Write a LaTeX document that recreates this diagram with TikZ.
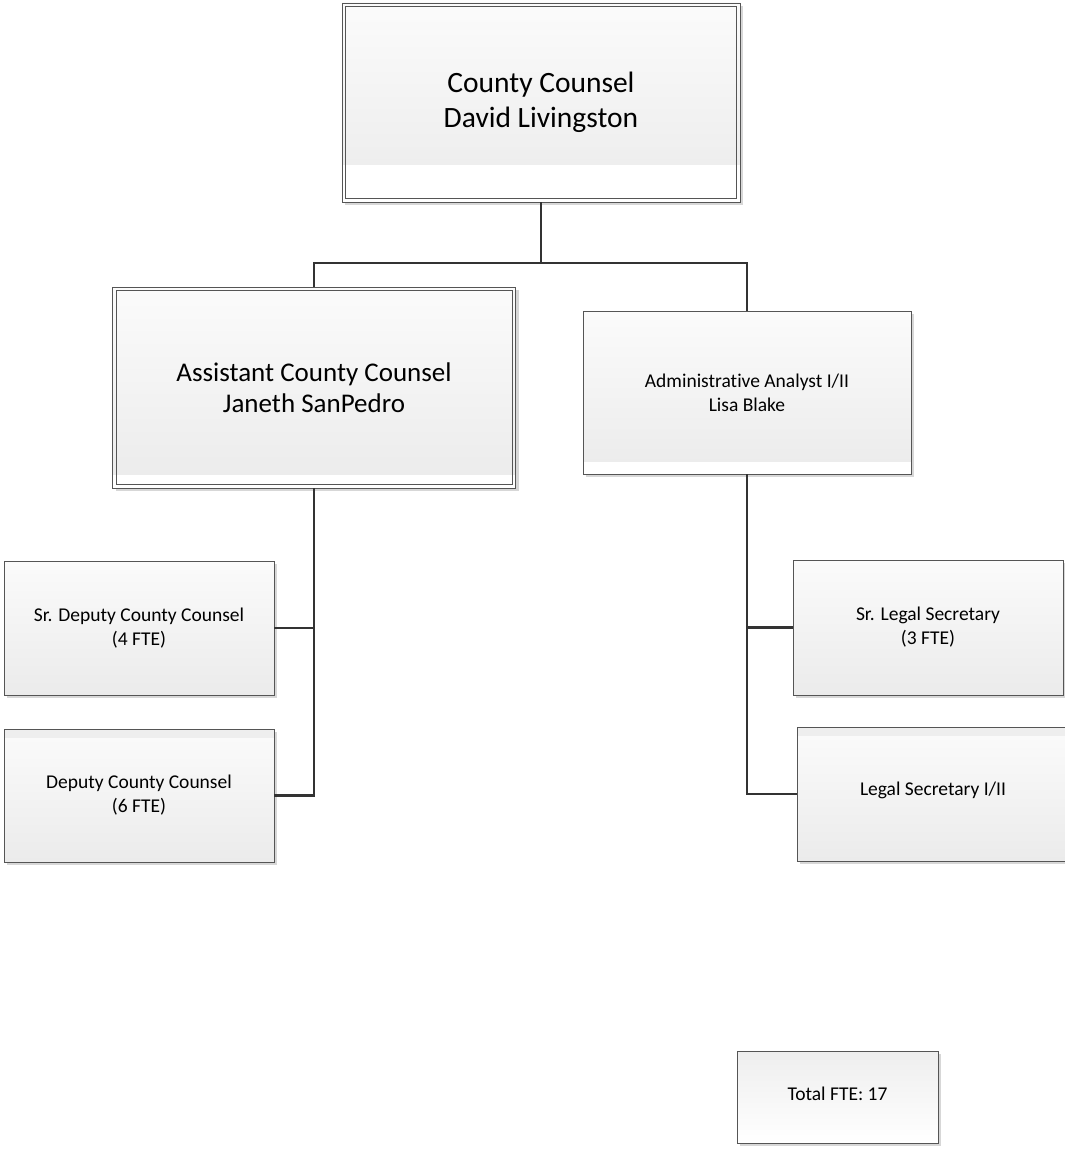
\documentclass[tikz,border=0pt]{standalone}
\usepackage{fontspec}
\setmainfont{Carlito}[Ligatures=NoCommon]
\usetikzlibrary{shadows}
\definecolor{boxline}{HTML}{555555}
\definecolor{conn}{HTML}{333333}
\definecolor{gtop}{HTML}{FBFBFB}
\definecolor{gbot}{HTML}{EBEBEB}
\definecolor{gband}{HTML}{EEEEEE}
\begin{document}
\begin{tikzpicture}[x=1pt,y=-1pt,
  box/.style={draw=boxline, line width=0.9pt, top color=gtop, bottom color=gbot,
    drop shadow={shadow xshift=3pt, shadow yshift=-3pt, fill=gray!70, opacity=0.45},
    align=center, inner sep=0pt, text=black},
  wband/.style={path picture={\fill[white] ([yshift=#1]path picture bounding box.south west) rectangle (path picture bounding box.south east);}},
  tband/.style={path picture={\fill[gband] ([yshift=-#1]path picture bounding box.north west) rectangle (path picture bounding box.north east);}},
  big/.style={font=\fontsize{29.5}{35}\selectfont},
  mid/.style={font=\fontsize{27}{31}\selectfont},
  small/.style={font=\fontsize{19.5}{24}\selectfont},
  inner/.style={draw=boxline, line width=0.9pt},
  link/.style={draw=conn, line width=2.2pt}
]
\useasboundingbox (0,0) rectangle (1065,1156);

\coordinate (j1) at (541,263);

\node[box, big, wband=37pt, minimum width=398pt, minimum height=199pt] (top) at (541,102.5) {County Counsel\\David Livingston};
\draw[inner] ([shift={(4,4)}]top.north west) rectangle ([shift={(-4,-4)}]top.south east);

\node[box, mid, wband=13pt, minimum width=403pt, minimum height=201pt] (acc) at (314,387.5) {Assistant County Counsel\\Janeth SanPedro};
\draw[inner] ([shift={(4,4)}]acc.north west) rectangle ([shift={(-4,-4)}]acc.south east);

\node[box, small, wband=12pt, minimum width=328pt, minimum height=163pt] (aa) at (747,392.5) {Administrative Analyst I/II\\Lisa Blake};

\node[box, small, minimum width=270pt, minimum height=134pt] (srdep) at (139,628) {Sr. Deputy County Counsel\\(4 FTE)};
\node[box, small, tband=9pt, minimum width=270pt, minimum height=133pt] (dep) at (139,795.5) {Deputy County Counsel\\(6 FTE)};

\node[box, small, minimum width=270pt, minimum height=135pt] (srleg) at (928,627.5) {Sr. Legal Secretary\\(3 FTE)};
\node[box, small, tband=9pt, minimum width=272pt, minimum height=134pt] (legsec) at (933,794) {\raisebox{11pt}{Legal Secretary I/II}};

\node[box, small, top color=gband, bottom color=white, minimum width=201pt, minimum height=92pt] (total) at (837.5,1097) {\raisebox{7pt}{Total FTE: 17}};

\draw[link] (top.south) -- (j1);
\draw[link] (acc.north) |- (j1) -| (aa.north);
\draw[link] (acc.south) |- (dep.east);
\draw[link] (srdep.east) -- (srdep.east -| acc.south);
\draw[link] (aa.south) |- (legsec.west);
\draw[link] (srleg.west) -- (srleg.west -| aa.south);
\end{tikzpicture}
\end{document}
